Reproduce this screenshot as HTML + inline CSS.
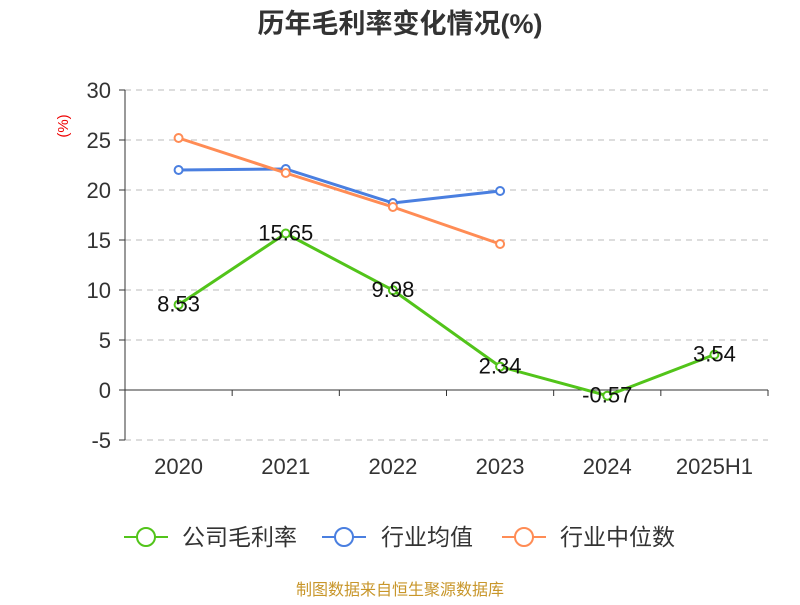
<!DOCTYPE html>
<html><head><meta charset="utf-8"><style>
body{margin:0;background:#fff;font-family:"Liberation Sans","Noto Sans CJK SC",sans-serif}
</style></head><body>
<svg id="c" width="800" height="600" xmlns="http://www.w3.org/2000/svg" font-family="Liberation Sans, Noto Sans CJK SC, sans-serif">
<text x="400" y="33" text-anchor="middle" font-size="27" font-weight="bold" fill="#333">历年毛利率变化情况(%)</text>
<text transform="translate(68,126) rotate(-90)" text-anchor="middle" font-size="15" fill="#e00">(%)</text>
<g id="grid"></g><g id="axes"></g><g id="series"></g>
<g>
<g><line x1="124" y1="537" x2="168" y2="537" stroke="#52c41a" stroke-width="2"/><circle cx="146" cy="537" r="9" fill="#fff" stroke="#52c41a" stroke-width="2"/><text x="182" y="545" font-size="23" fill="#333">公司毛利率</text></g>
<g><line x1="322" y1="537" x2="366" y2="537" stroke="#4a7fe0" stroke-width="2"/><circle cx="344" cy="537" r="9" fill="#fff" stroke="#4a7fe0" stroke-width="2"/><text x="381" y="545" font-size="23" fill="#333">行业均值</text></g>
<g><line x1="502" y1="537" x2="546" y2="537" stroke="#ff8c55" stroke-width="2"/><circle cx="524" cy="537" r="9" fill="#fff" stroke="#ff8c55" stroke-width="2"/><text x="560" y="545" font-size="23" fill="#333">行业中位数</text></g>
</g>
<text x="400" y="595" text-anchor="middle" font-size="16" fill="#c8962a">制图数据来自恒生聚源数据库</text>
</svg>
<script>
const categories=["2020","2021","2022","2023","2024","2025H1"];
const grossMargin=[8.53,15.65,9.98,2.34,-0.57,3.54];
const industryAvg=[22.0,22.1,18.7,19.9];
const industryMedian=[25.2,21.7,18.3,14.6];
const yTicks=[30,25,20,15,10,5,0,-5];
const NS="http://www.w3.org/2000/svg";
const x0=125,x1=768,bw=(x1-x0)/categories.length;
const xs=i=>x0+bw*(i+0.5);
const ys=v=>390-v*10;
function mk(t,a,p){const e=document.createElementNS(NS,t);for(const k in a)e.setAttribute(k,a[k]);p.appendChild(e);return e;}
const g=document.getElementById('grid'),ax=document.getElementById('axes'),s=document.getElementById('series');
yTicks.forEach(v=>{
 if(v!==0){const l=mk('line',{x1:x0,x2:x1,y1:ys(v),y2:ys(v),stroke:'#bbb','stroke-dasharray':'6,5'},g);
 
 }
 const t=mk('line',{x1:x0-6,x2:x0,y1:ys(v),y2:ys(v),stroke:'#333'},ax);
 
 
 const tx=mk('text',{x:x0-14,y:ys(v)+8,'text-anchor':'end','font-size':22,fill:'#333'},ax);tx.textContent=v;
 
 
});
const ya=mk('line',{x1:x0,x2:x0,y1:ys(30),y2:ys(-5),stroke:'#333'},ax);


const xa=mk('line',{x1:x0,x2:x1,y1:ys(0),y2:ys(0),stroke:'#333'},ax);


for(let i=0;i<=categories.length;i++){const t=mk('line',{x1:x0+bw*i,x2:x0+bw*i,y1:ys(0),y2:ys(0)+6,stroke:'#333'},ax);
 
 }
categories.forEach((c,i)=>{const t=mk('text',{x:xs(i),y:474,'text-anchor':'middle','font-size':22,fill:'#333'},ax);t.textContent=c;
 
 });
function line(arr,col,name,labels){
 const p=mk('polyline',{points:arr.map((v,i)=>xs(i)+','+ys(v)).join(' '),fill:'none',stroke:col,'stroke-width':3},s);
 
 
 arr.forEach((v,i)=>{const c=mk('circle',{cx:xs(i),cy:ys(v),r:4,fill:'#fff',stroke:col,'stroke-width':2},s);
 
 
 if(labels){const t=mk('text',{x:xs(i),y:ys(v)+7,'text-anchor':'middle','font-size':22,fill:'#111'},s);t.textContent=v.toFixed(2);
 
 }});
}
line(industryAvg,'#4a7fe0','industry-average',false);
line(industryMedian,'#ff8c55','industry-median',false);
line(grossMargin,'#52c41a','gross-margin',true);
</script>
</body></html>
